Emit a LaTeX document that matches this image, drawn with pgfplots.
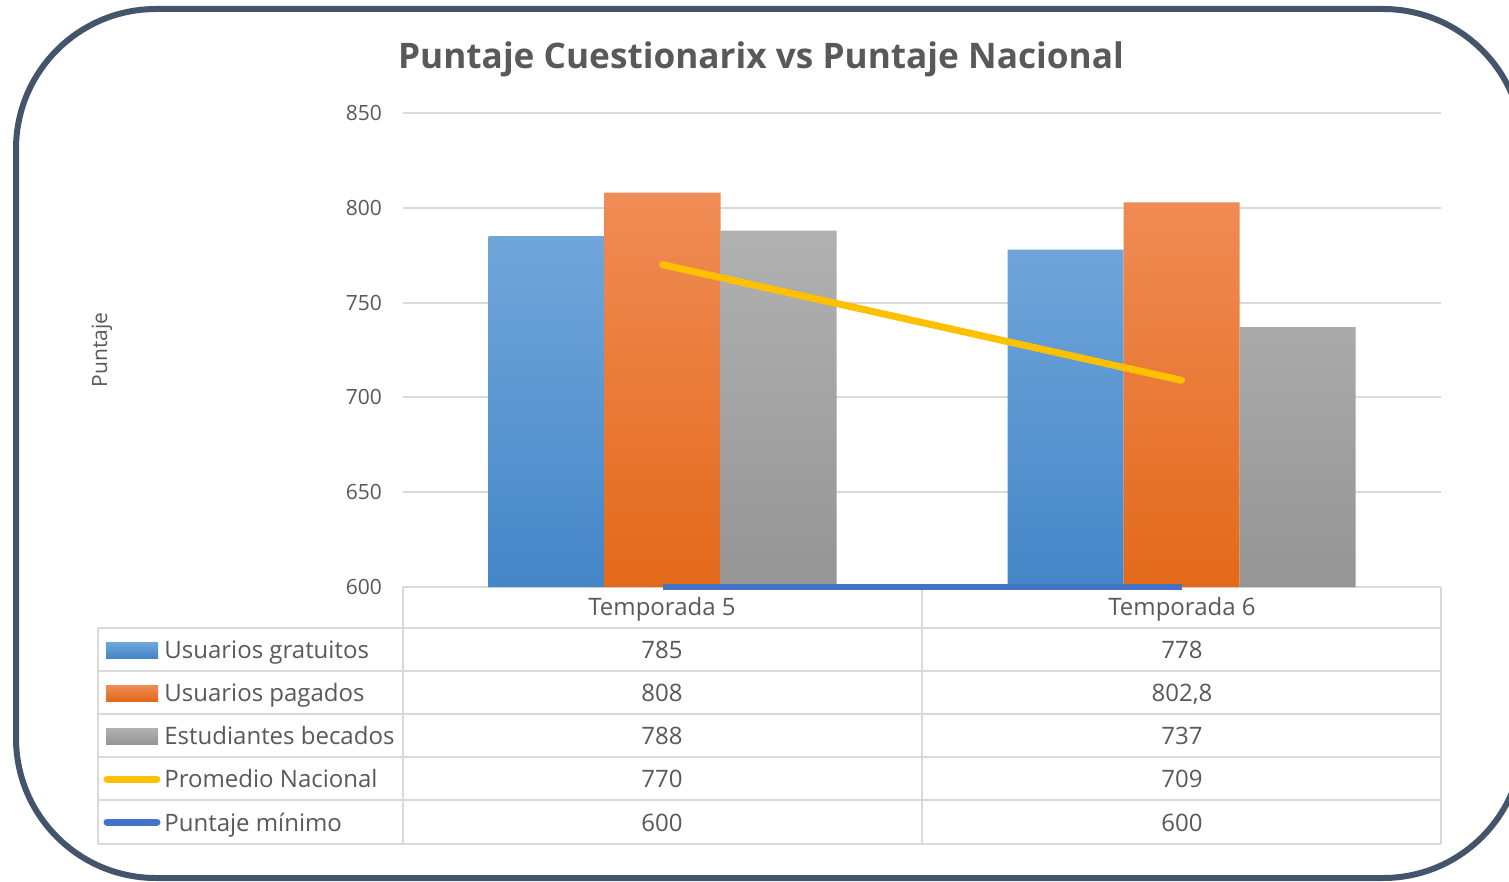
\documentclass[border=0pt]{standalone}
\usepackage{fontspec}
\setmainfont{Open Sans}
\usepackage{pgfplots}
\pgfplotsset{compat=1.18}

\definecolor{txt}{HTML}{595959}
\definecolor{gridc}{HTML}{D9D9D9}
\definecolor{framec}{HTML}{44546A}
\definecolor{blueT}{HTML}{71A6DA}
\definecolor{blueB}{HTML}{4486C8}
\definecolor{orT}{HTML}{F08C56}
\definecolor{orB}{HTML}{E3691A}
\definecolor{grT}{HTML}{B1B1B1}
\definecolor{grB}{HTML}{959595}
\definecolor{promc}{HTML}{FFC000}
\definecolor{minc}{HTML}{4472C4}

\begin{document}
\begin{tikzpicture}
\path[use as bounding box, clip] (0,0) rectangle (754.5pt,-441pt);
% pixel grid of the reference: 1 px = 0.5pt, y downwards
\begin{scope}[x=0.5pt, y=-0.5pt]
  \fill[white] (0,0) rectangle (1509,882);
  \draw[framec, line width=3pt, rounded corners=70pt] (16,9) rectangle (1523,878);
  % title and y label
  \node[anchor=base, inner sep=0, text=txt, font=\fontsize{17.6}{19}\selectfont\bfseries] at (761,69) {Puntaje Cuestionarix vs Puntaje Nacional};
  \node[rotate=90, inner sep=0, text=txt, font=\fontsize{10.5}{12}\selectfont] at (102,350) {Puntaje};
  % data table grid
  \draw[gridc, line width=1pt] (403,587) -- (1441,587);
  \foreach \yy in {628,671,714,757,800,844} \draw[gridc, line width=1pt] (98,\yy) -- (1441,\yy);
  \draw[gridc, line width=1pt] (98,628) -- (98,844);
  \foreach \xx in {403,922,1441} \draw[gridc, line width=1pt] (\xx,587) -- (\xx,844);
  % table text
  \begin{scope}[every node/.style={inner sep=0, text=txt, font=\fontsize{12}{14}\selectfont}]
    \node[anchor=base] at (662,615) {Temporada 5};
    \node[anchor=base] at (1182,615) {Temporada 6};
    \node[anchor=base west] at (164,658) {Usuarios gratuitos};
    \node[anchor=base west] at (164,701) {Usuarios pagados};
    \node[anchor=base west] at (164,744) {Estudiantes becados};
    \node[anchor=base west] at (164,787) {Promedio Nacional};
    \node[anchor=base west] at (164,831) {Puntaje mínimo};
    \node[anchor=base] at (662,658) {785};
    \node[anchor=base] at (662,701) {808};
    \node[anchor=base] at (662,744) {788};
    \node[anchor=base] at (662,787) {770};
    \node[anchor=base] at (662,831) {600};
    \node[anchor=base] at (1182,658) {778};
    \node[anchor=base] at (1182,701) {802,8};
    \node[anchor=base] at (1182,744) {737};
    \node[anchor=base] at (1182,787) {709};
    \node[anchor=base] at (1182,831) {600};
  \end{scope}
  % legend keys
  \shade[top color=blueT, bottom color=blueB] (106,642) rectangle (158,658);
  \shade[top color=orT, bottom color=orB] (106,685) rectangle (158,701);
  \shade[top color=grT, bottom color=grB] (106,728) rectangle (158,744);
  \draw[promc, line width=3.5pt, line cap=round] (107,779) -- (157,779);
  \draw[minc, line width=3.5pt, line cap=round] (107,822) -- (157,822);
\end{scope}

\begin{axis}[
  at={(201.5pt,-293.5pt)}, anchor=south west,
  width=519pt, height=237pt, scale only axis,
  xmin=-0.5, xmax=1.5, ymin=600, ymax=850,
  ytick={600,650,...,850}, xtick=\empty,
  axis line style={draw=none}, major tick length=0pt,
  ymajorgrids, grid style={line width=1pt, gridc},
  yticklabel style={font=\fontsize{10.5}{12}\selectfont, text=txt, xshift=-7pt},
  /pgf/number format/assume math mode=true,
  ybar=0pt, bar width=58pt,
]
\addplot[draw=none, top color=blueT, bottom color=blueB] coordinates {(0,785) (1,778)};
\addplot[draw=none, top color=orT, bottom color=orB] coordinates {(0,808) (1,802.8)};
\addplot[draw=none, top color=grT, bottom color=grB] coordinates {(0,788) (1,737)};
\end{axis}

\begin{axis}[
  at={(201.5pt,-293.5pt)}, anchor=south west,
  width=519pt, height=237pt, scale only axis,
  xmin=-0.5, xmax=1.5, ymin=600, ymax=850,
  hide axis, clip=false,
]
\addplot[promc, line width=3.5pt, line cap=round, no marks] coordinates {(0,770) (1,709)};
\addplot[minc, line width=3pt, no marks] coordinates {(0,600) (1,600)};
\end{axis}
\end{tikzpicture}
\end{document}
